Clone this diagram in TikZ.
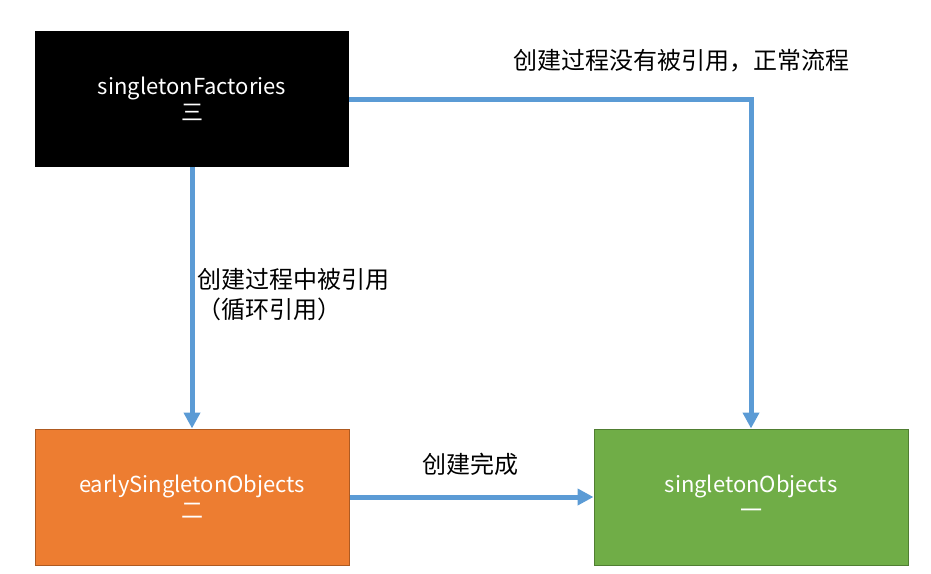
\documentclass[tikz,border=0pt]{standalone}
\usepackage{fontspec}
\setmainfont{Noto Sans CJK SC}
\usetikzlibrary{arrows.meta}
\definecolor{arrowblue}{HTML}{5B9BD5}
\definecolor{boxorange}{HTML}{ED7D31}
\definecolor{boxorangeline}{HTML}{AE5A21}
\definecolor{boxgreen}{HTML}{70AD47}
\definecolor{boxgreenline}{HTML}{507E32}
\tikzset{
  box/.style={minimum width=314pt, minimum height=136pt, inner sep=0pt, align=center,
    text=white, font=\fontsize{22}{26}\selectfont},
  conn/.style={draw=arrowblue, line width=5pt, -{Triangle[length=16pt,width=16pt]}},
  lbl/.style={font=\fontsize{24}{30}\selectfont, text=black, inner sep=0pt}
}
\begin{document}
\begin{tikzpicture}[x=1pt,y=-1pt]
\useasboundingbox (0,0) rectangle (931,573);
\node[box, fill=black] (f) at (192,99) {singletonFactories\\三};
\node[box, fill=boxorange, draw=boxorangeline, line width=1pt] (e) at (192,497) {earlySingletonObjects\\二};
\node[box, fill=boxgreen, draw=boxgreenline, line width=1pt] (g) at (751,497) {singletonObjects\\一};
\draw[conn] (f.south) -- (e.north);
\draw[conn] (f.east) -| (g.north);
\draw[conn] (e.east) -- (g.west);
\node[lbl] (l1) at (681,61) {创建过程没有被引用，正常流程};
\node[lbl, anchor=west, align=left] (l2) at (197,295) {创建过程中被引用\\（循环引用）};
\node[lbl] (l3) at (470,464) {创建完成};
\end{tikzpicture}
\end{document}
